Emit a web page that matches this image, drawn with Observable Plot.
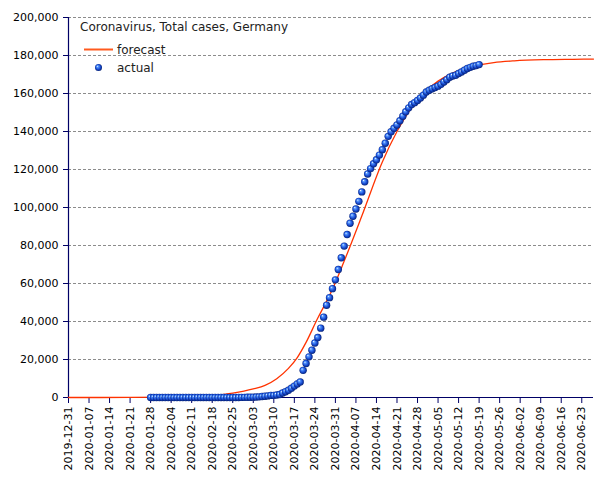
<!DOCTYPE html>
<html><head><meta charset="utf-8">
<script src="https://cdn.jsdelivr.net/npm/d3@7"></script>
<script src="https://cdn.jsdelivr.net/npm/@observablehq/plot@0.6"></script>
<style>
html,body{margin:0;padding:0;background:#fff;}
#chart svg{display:block;background:#fff;font-family:"DejaVu Sans",sans-serif;}
</style></head><body><div id="chart"></div>
<script>
const titleText = "Coronavirus, Total cases, Germany";
const seriesNames = ["forecast", "actual"];
const xTickLabels = ["2019-12-31","2020-01-07","2020-01-14","2020-01-21","2020-01-28","2020-02-04","2020-02-11","2020-02-18","2020-02-25","2020-03-03","2020-03-10","2020-03-17","2020-03-24","2020-03-31","2020-04-07","2020-04-14","2020-04-21","2020-04-28","2020-05-05","2020-05-12","2020-05-19","2020-05-26","2020-06-02","2020-06-09","2020-06-16","2020-06-23"];
const yTicks = [0,20000,40000,60000,80000,100000,120000,140000,160000,180000,200000];
const xDomain = ["2019-12-31","2020-06-27"];
const yDomain = [0, 200000];

// actual: one value per day starting 2020-01-28, ending 2020-05-19
const actualStart = "2020-01-28";
const actualValues = [
  4,4,4,5,
  7,8,10,12,12,12,13,13,14,14,16,16,16,16,16,16,16,16,16,16,16,16,16,16,18,21,26,53,66,
  117,150,188,240,349,534,684,847,1112,1139,1296,1567,2369,3062,3795,4838,6012,7156,8198,14300,17900,21400,24900,28700,31554,36508,42288,48582,52547,57298,61913,
  67366,73522,79696,85778,91714,95391,99225,103228,108202,113525,117658,120479,123016,125098,127584,130450,133830,137439,139897,141672,143457,145694,148046,150383,152438,154175,155193,156337,157641,159119,
  160758,161703,162496,163175,163860,164807,166091,167300,168551,169218,169575,170508,171306,172239,173152,173772,174355,174697,175210
];

const forecastDates = ["2019-12-31","2020-01-21","2020-02-04","2020-02-11","2020-02-18","2020-02-25","2020-03-03","2020-03-07","2020-03-11","2020-03-15","2020-03-18","2020-03-21","2020-03-25","2020-03-27","2020-03-30","2020-04-03","2020-04-09","2020-04-16","2020-04-21","2020-04-25","2020-04-30","2020-05-05","2020-05-10","2020-05-15","2020-05-19","2020-05-24","2020-05-31","2020-06-10","2020-06-20","2020-06-27"];
const forecastValues = [0,20,150,450,1100,2300,4500,6400,9900,15300,21000,29000,41800,47700,57000,71800,95500,124000,140000,150500,160000,166500,170700,173600,175100,176300,177200,177800,178000,178100];

const navy = "#000066";
const lineColor = "#ff3300";
const legendLineColor = "#ff5a1e";

const parse = d3.utcParse("%Y-%m-%d");
const actual = actualValues.map((v, i) => ({date: d3.utcDay.offset(parse(actualStart), i), value: v}));
const forecast = forecastDates.map((d, i) => ({date: parse(d), value: forecastValues[i]}));
const xTicks = xTickLabels.map(parse);

const svg = Plot.plot({
  width: 605,
  height: 480,
  marginLeft: 68,
  marginRight: 12,
  marginTop: 17,
  marginBottom: 83,
  style: {fontFamily: "DejaVu Sans, sans-serif", fontSize: "11px", color: "black", background: "#fff"},
  x: {type: "utc", domain: xDomain.map(parse)},
  y: {domain: yDomain},
  marks: [
    Plot.gridY(yTicks.slice(1), {stroke: "#8c8c8c", strokeOpacity: 1, strokeDasharray: "3,2", strokeWidth: 1}),
    Plot.axisY({ticks: yTicks, tickFormat: d3.format(","), tickSize: 5, tickPadding: 5, fontSize: 11, stroke: navy, color: "black", label: null}),
    Plot.axisX({ticks: xTicks, tickFormat: d3.utcFormat("%Y-%m-%d"), tickRotate: -90, tickSize: 6, tickPadding: 3, fontSize: 11, stroke: navy, color: "black", label: null}),
    Plot.ruleY([yDomain[0]], {stroke: navy, strokeWidth: 1.2}),
    Plot.ruleX([parse(xDomain[0])], {stroke: navy, strokeWidth: 1.2}),
    Plot.line(forecast, {x: "date", y: "value", stroke: lineColor, strokeWidth: 1.3, curve: "monotone-x"}),
    Plot.dot(actual, {x: "date", y: "value", r: 3.7, fill: "url(#sphere)", stroke: "none"})
  ]
});

const s = d3.select(svg);
const defs = s.insert("defs", ":first-child");
const g = defs.append("radialGradient").attr("id", "sphere").attr("cx", "50%").attr("cy", "50%").attr("r", "55%").attr("fx", "33%").attr("fy", "30%");
g.append("stop").attr("offset", "0%").attr("stop-color", "#ffffff");
g.append("stop").attr("offset", "22%").attr("stop-color", "#5a9cff");
g.append("stop").attr("offset", "60%").attr("stop-color", "#1a4fd6");
g.append("stop").attr("offset", "100%").attr("stop-color", "#001766");

const leg = s.append("g").attr("font-family", "DejaVu Sans, sans-serif").attr("font-size", 12).attr("fill", "#222").attr("text-anchor", "start");
leg.append("text").attr("x", 80).attr("y", 31).text(titleText);
leg.append("line").attr("x1", 84).attr("x2", 113).attr("y1", 49.5).attr("y2", 49.5).attr("stroke", legendLineColor).attr("stroke-width", 2);
leg.append("text").attr("x", 117).attr("y", 53.5).text(seriesNames[0]);
leg.append("circle").attr("cx", 98.5).attr("cy", 67.5).attr("r", 3.5).attr("fill", "url(#sphere)");
leg.append("text").attr("x", 117).attr("y", 72).text(seriesNames[1]);

document.getElementById("chart").appendChild(svg);
</script>
</body></html>
